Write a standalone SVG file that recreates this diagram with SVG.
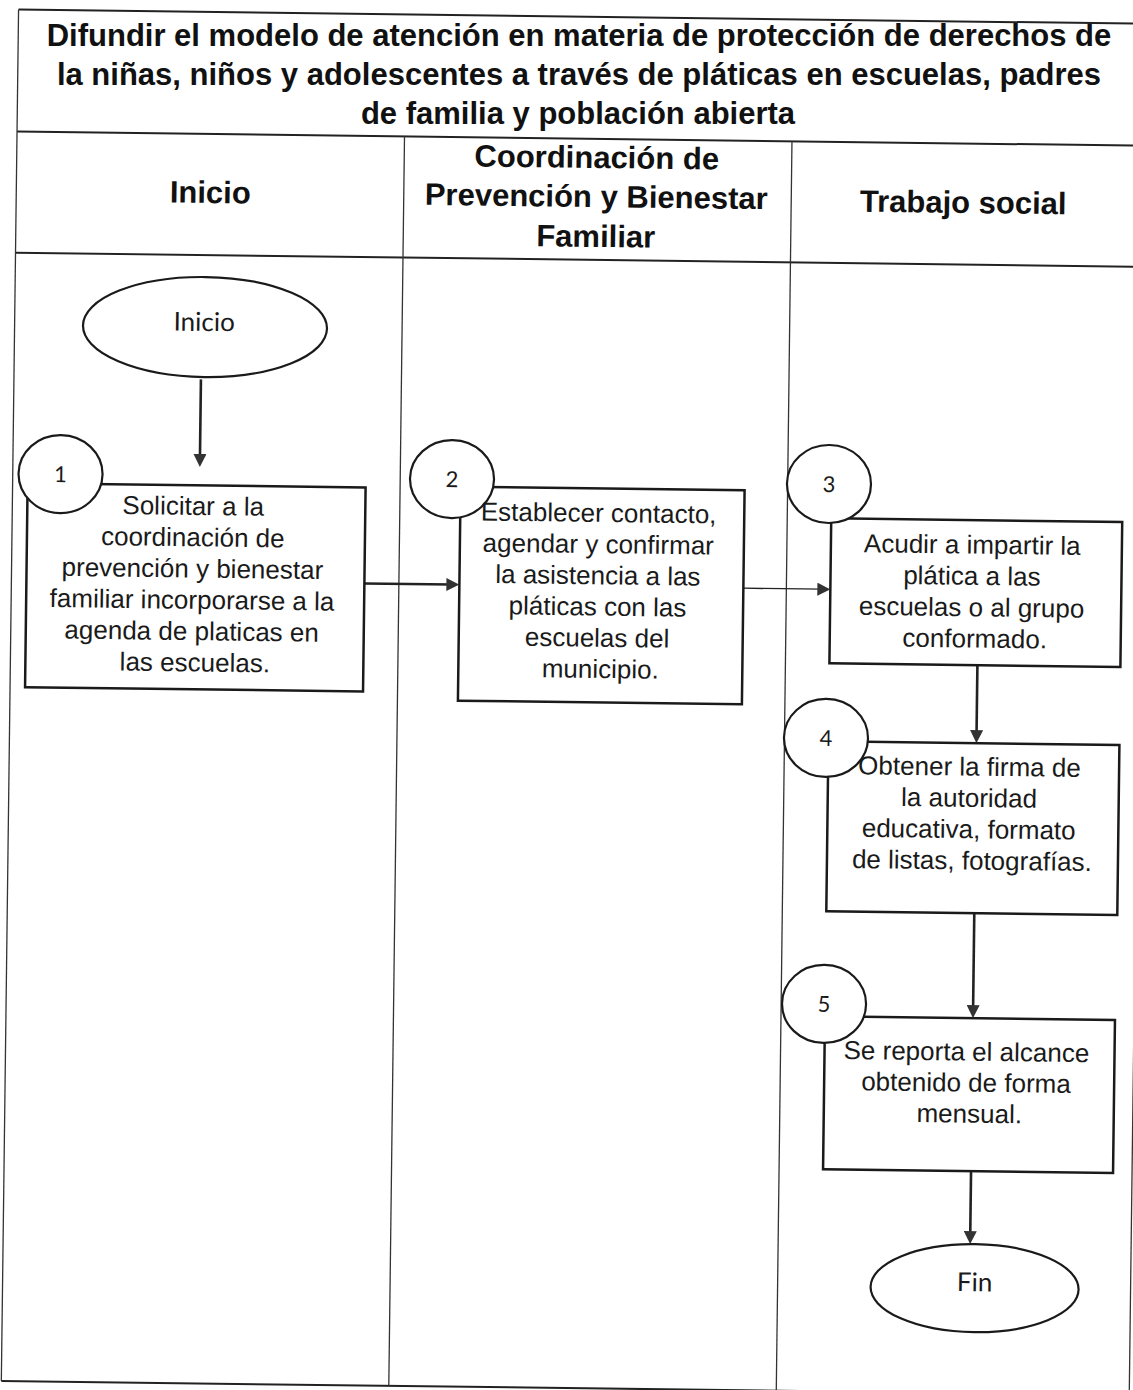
<svg xmlns="http://www.w3.org/2000/svg" width="1133" height="1390" viewBox="0 0 1133 1390">
  <style>
    .frame { fill: none; stroke: #222; stroke-width: 2; }
    .lane { fill: none; stroke: #333; stroke-width: 1.3; }
    .box { fill: #fff; stroke: #1a1a1a; stroke-width: 2.5; }
    .term { fill: #fff; stroke: #1a1a1a; stroke-width: 2.2; }
    .num { fill: #fff; stroke: #1a1a1a; stroke-width: 2.2; }
    .link { fill: none; stroke: #222; stroke-width: 2.6; }
    .link.thin { stroke-width: 1.3; }
    .title { font-family: "Liberation Sans", Arial, sans-serif; font-weight: bold; font-size: 31px; fill: #111; text-anchor: middle; }
    .body { font-family: "Liberation Sans", Arial, sans-serif; font-size: 26px; fill: #1a1a1a; text-anchor: middle; }
    .label { font-family: Lato, "Liberation Sans", sans-serif; font-size: 26px; fill: #1a1a1a; text-anchor: middle; }
    .digit { font-family: Lato, "Liberation Sans", sans-serif; font-size: 22px; fill: #1a1a1a; text-anchor: middle; }
  </style>
  <defs>
    <marker id="arrow" viewBox="0 0 13 13" refX="5" refY="6.5" markerWidth="13" markerHeight="13" markerUnits="userSpaceOnUse" orient="auto">
      <path d="M0,0 L13,6.5 L0,13 z" fill="#333"/>
    </marker>
  </defs>
  <rect width="1133" height="1390" fill="#fff"/>

  <!-- title block, three centred lines -->
  <g id="title">
    <text class="title" x="579" y="46">Difundir el modelo de atención en materia de protección de derechos de</text>
    <text class="title" x="579" y="85">la niñas, niños y adolescentes a través de pláticas en escuelas, padres</text>
    <text class="title" x="578" y="124">de familia y población abierta</text>
  </g>

  <!-- the sheet sits slightly turned on the page -->
  <g transform="rotate(0.72 566 695)">
    <!-- table frame, header row and swimlanes -->
    <g id="table">
      <line class="frame" x1="10" y1="16.5" x2="1138" y2="16.5"/>
      <line class="frame" x1="10" y1="138.5" x2="1138" y2="138.5" stroke-width="2.4"/>
      <line class="frame" x1="10" y1="259.6" x2="1138" y2="259.6"/>
      <line class="frame" x1="10" y1="1388" x2="1138" y2="1388"/>
      <line class="lane" x1="10" y1="16.5" x2="10" y2="1388"/>
      <line class="lane" x1="1138" y1="16.5" x2="1138" y2="1388"/>
      <line class="lane" x1="397.5" y1="138.5" x2="397.5" y2="1388"/>
      <line class="lane" x1="785" y1="138.5" x2="785" y2="1388"/>
      <text class="title" x="204" y="207.5">Inicio</text>
      <text class="title" x="590" y="167.6">Coordinación de</text>
      <text class="title" x="590" y="206.7">Prevención y Bienestar</text>
      <text class="title" x="590" y="246.6">Familiar</text>
      <text class="title" x="957" y="208">Trabajo social</text>
    </g>

    <!-- connectors -->
    <g id="connectors">
      <path class="link" d="M197,384 V463.6" marker-end="url(#arrow)"/>
      <path class="link" d="M363,586 H450" marker-end="url(#arrow)"/>
      <path class="link thin" d="M742,586 H821" marker-end="url(#arrow)"/>
      <path class="link" d="M977,660 V730" marker-end="url(#arrow)"/>
      <path class="link" d="M977,908 V1005" marker-end="url(#arrow)"/>
      <path class="link" d="M977,1166 V1231" marker-end="url(#arrow)"/>
    </g>

    <g id="inicio">
      <ellipse class="term" cx="200.4" cy="331.6" rx="122" ry="50"/>
      <text class="label" x="199.5" y="335.5">Inicio</text>
    </g>

    <g id="step1">
      <rect class="box" x="25" y="490" width="338" height="204"/>
      <ellipse class="num" cx="57.8" cy="480.4" rx="42" ry="39"/>
      <text class="digit" x="57.8" y="488.4">1</text>
      <text class="body" x="194.5">
        <tspan x="194.5" y="519.6">Solicitar a la</tspan>
        <tspan x="194.5" y="550.9">coordinación de</tspan>
        <tspan x="194.5" y="582.2">prevención y bienestar</tspan>
        <tspan x="194.5" y="613.5">familiar incorporarse a la</tspan>
        <tspan x="194.5" y="644.8">agenda de platicas en</tspan>
        <tspan x="194.5" y="676.1">las escuelas.</tspan>
      </text>
    </g>

    <g id="step2">
      <rect class="box" x="458" y="488" width="284" height="214"/>
      <ellipse class="num" cx="449.3" cy="480.5" rx="42" ry="39"/>
      <text class="digit" x="449.3" y="488.5">2</text>
      <text class="body" x="600">
        <tspan x="600" y="521.5">Establecer contacto,</tspan>
        <tspan x="600" y="552.7">agendar y confirmar</tspan>
        <tspan x="600" y="583.9">la asistencia a las</tspan>
        <tspan x="600" y="615.1">pláticas con las</tspan>
        <tspan x="600" y="646.3">escuelas del</tspan>
        <tspan x="600" y="677.5">municipio.</tspan>
      </text>
    </g>

    <g id="step3">
      <rect class="box" x="829" y="515" width="291" height="145"/>
      <ellipse class="num" cx="826.3" cy="480.7" rx="42" ry="39"/>
      <text class="digit" x="826.3" y="488.7">3</text>
      <text class="body" x="974">
        <tspan x="974" y="548.5">Acudir a impartir la</tspan>
        <tspan x="974" y="579.8">plática a las</tspan>
        <tspan x="974" y="611.1">escuelas o al grupo</tspan>
        <tspan x="974" y="642.4">conformado.</tspan>
      </text>
    </g>

    <g id="step4">
      <rect class="box" x="829" y="738" width="291" height="170"/>
      <ellipse class="num" cx="826.5" cy="734.7" rx="42" ry="39"/>
      <text class="digit" x="826.5" y="742.7">4</text>
      <text class="body" x="974">
        <tspan x="974" y="770.5">Obtener la firma de</tspan>
        <tspan x="974" y="801.8">la autoridad</tspan>
        <tspan x="974" y="833.1">educativa, formato</tspan>
        <tspan x="974" y="864.4">de listas, fotografías.</tspan>
      </text>
    </g>

    <g id="step5">
      <rect class="box" x="829" y="1013" width="290" height="153"/>
      <ellipse class="num" cx="827.9" cy="1000.7" rx="42" ry="39"/>
      <text class="digit" x="827.9" y="1008.7">5</text>
      <text class="body" x="974.5">
        <tspan x="974.5" y="1055.5">Se reporta el alcance</tspan>
        <tspan x="974.5" y="1086.5">obtenido de forma</tspan>
        <tspan x="974.5" y="1117.5">mensual.</tspan>
      </text>
    </g>

    <g id="fin">
      <ellipse class="term" cx="982" cy="1283" rx="104" ry="44"/>
      <text class="label" x="982" y="1286">Fin</text>
    </g>
  </g>
</svg>
